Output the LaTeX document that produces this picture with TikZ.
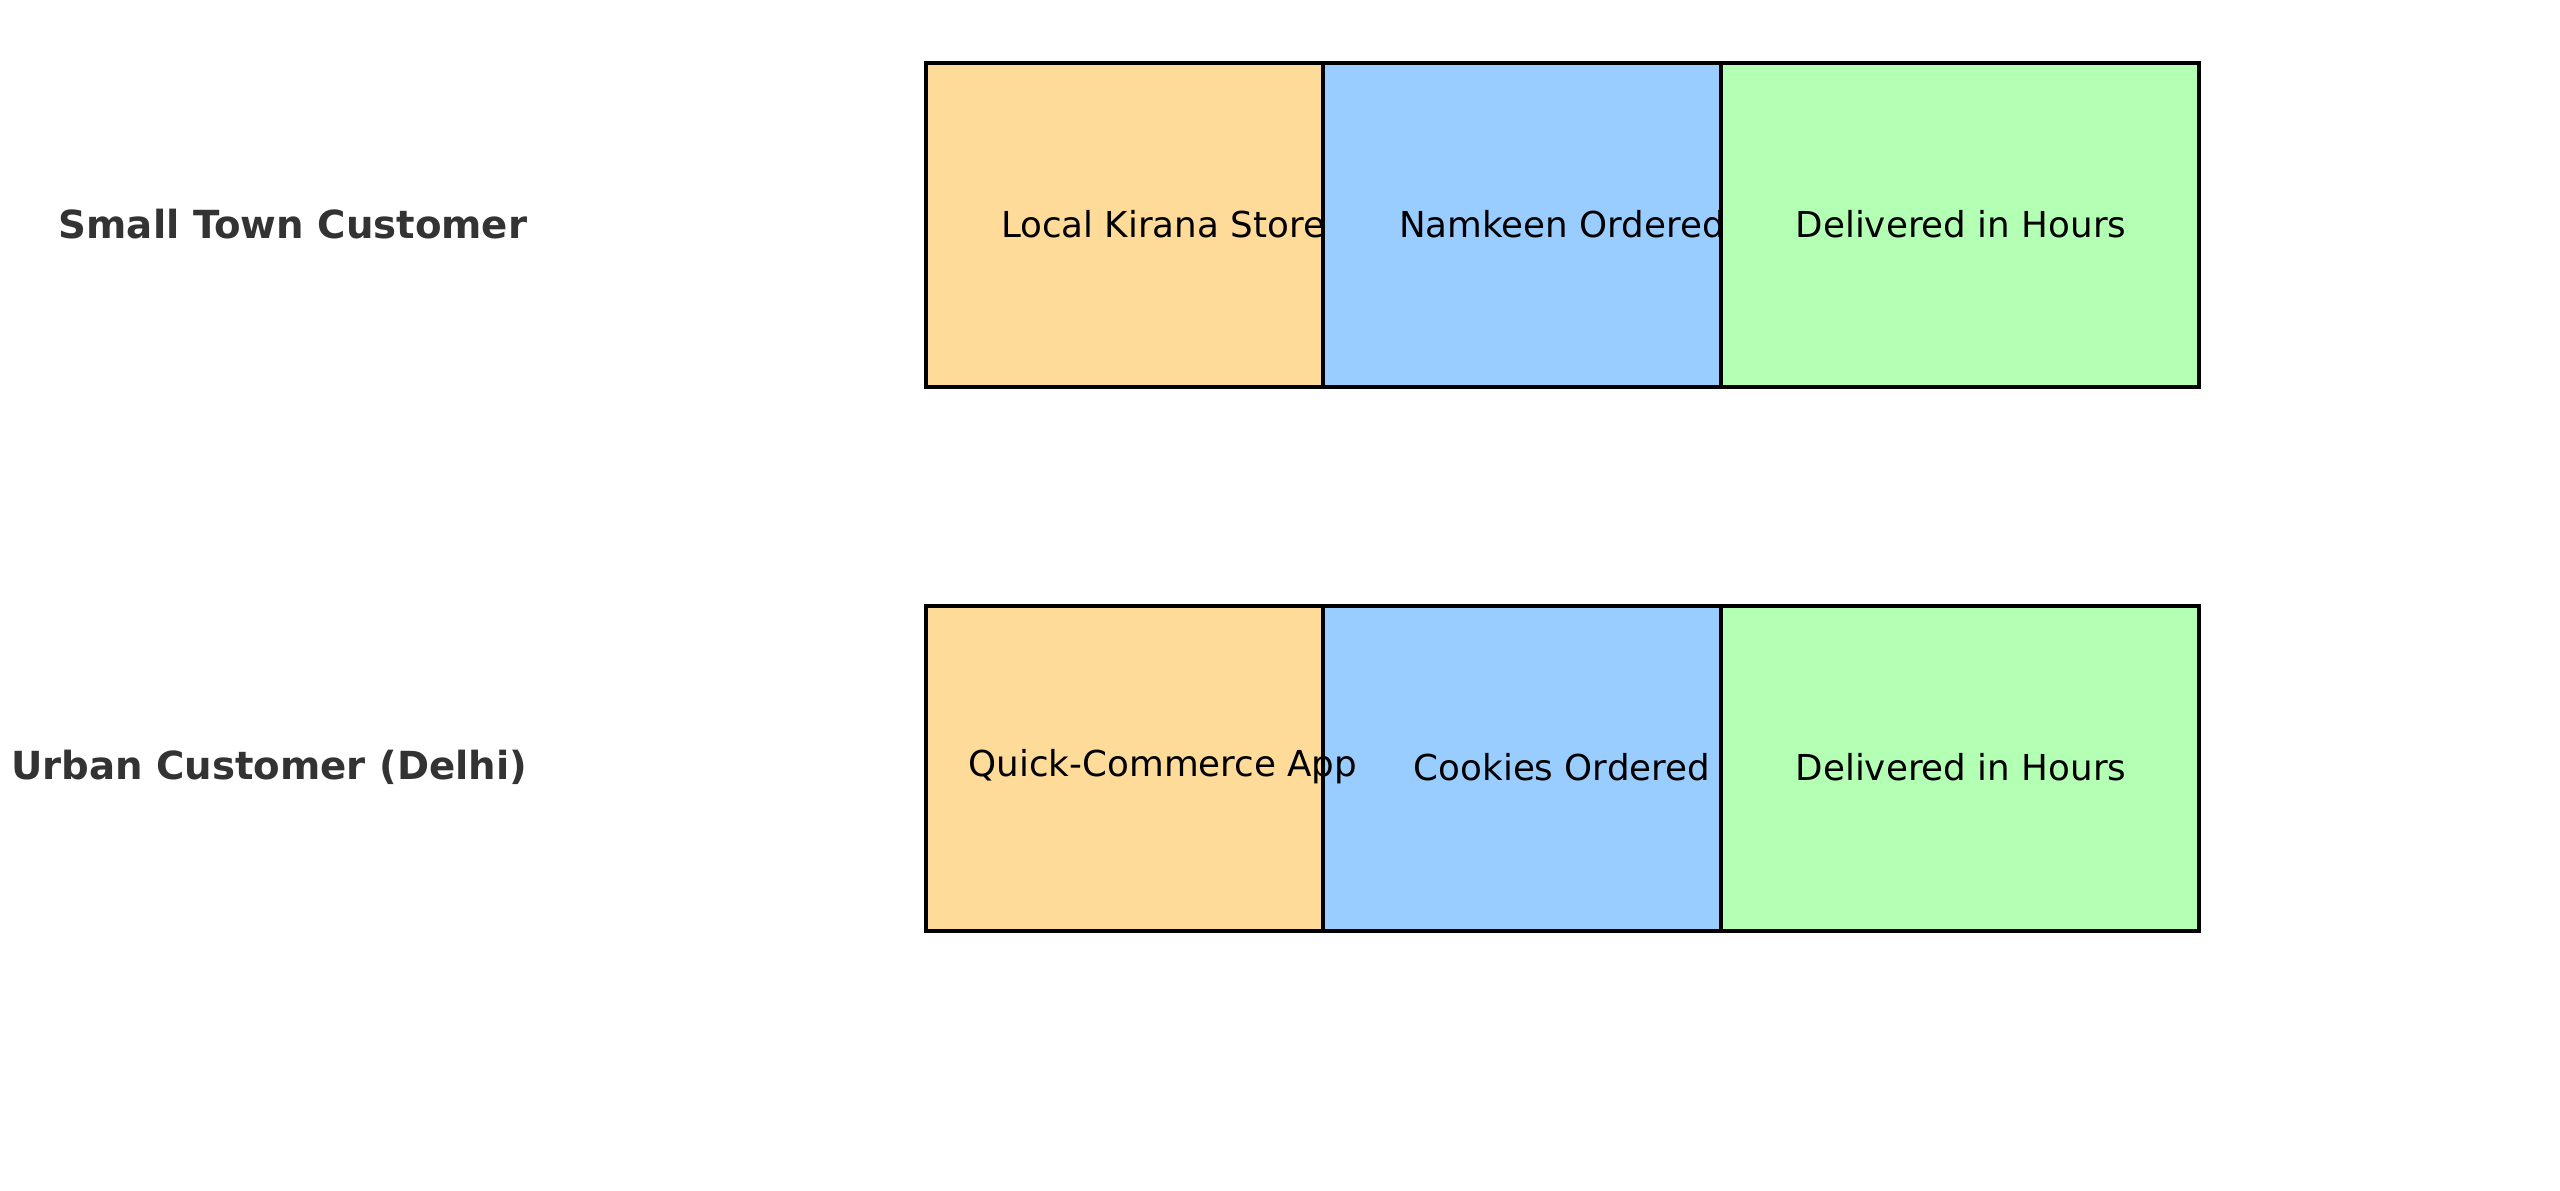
\documentclass[tikz,border=0pt]{standalone}
\usepackage{fontspec}
\setmainfont{DejaVu Sans}
\definecolor{stagea}{HTML}{FFDB99}
\definecolor{stageb}{HTML}{99CCFF}
\definecolor{stagec}{HTML}{B3FFB3}
\definecolor{rowtext}{HTML}{333333}
\begin{document}
\begin{tikzpicture}[x=0.01cm, y=-0.01cm, font=\fontsize{10.15}{12}\selectfont, line join=miter]
		\tikzset{stagebox/.style={draw=black, line width=1.1pt},
			rowlabel/.style={anchor=east, inner sep=0pt, text=rowtext, font=\fontsize{11}{13}\selectfont\bfseries},
			stagelabel/.style={inner sep=0pt}}
		\useasboundingbox (0,0) rectangle (2560,1191);
		% top row
		\node[rowlabel] (small) at (528,224) {Small Town Customer};
		\draw[stagebox, fill=stagea] (926,63) rectangle (1323,387);
		\draw[stagebox, fill=stageb] (1323,63) rectangle (1721,387);
		\draw[stagebox, fill=stagec] (1721,63) rectangle (2199,387);
		\node[stagelabel] (kirana) at (1163,224) {Local Kirana Store};
		\node[stagelabel] (namkeen) at (1562,224) {Namkeen Ordered};
		\node[stagelabel] (fasta) at (1961,224) {Delivered in Hours};
		% bottom row
		\node[rowlabel] (urban) at (528,767) {Urban Customer (Delhi)};
		\draw[stagebox, fill=stagea] (926,606) rectangle (1323,931);
		\draw[stagebox, fill=stageb] (1323,606) rectangle (1721,931);
		\draw[stagebox, fill=stagec] (1721,606) rectangle (2199,931);
		\node[stagelabel] (qcomm) at (1163,767) {Quick-Commerce App};
		\node[stagelabel] (cookies) at (1562,767) {Cookies Ordered};
		\node[stagelabel] (fastb) at (1961,767) {Delivered in Hours};
\end{tikzpicture}
\end{document}
